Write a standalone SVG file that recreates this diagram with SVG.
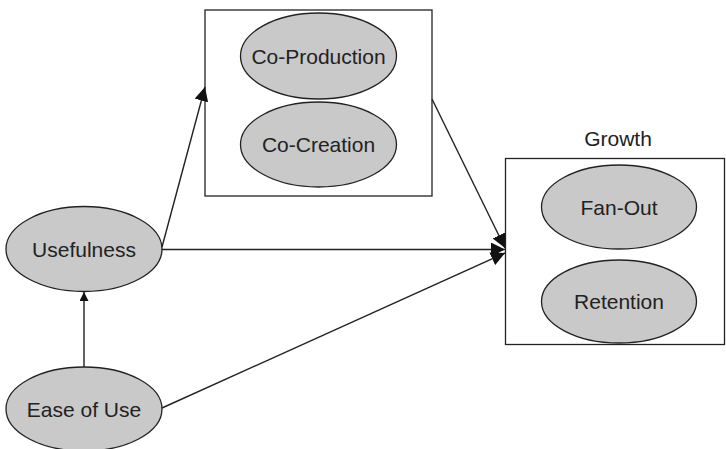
<svg xmlns="http://www.w3.org/2000/svg" width="726" height="449" viewBox="0 0 726 449">
  <defs>
    <marker id="arrow" viewBox="0 0 10 10" refX="10" refY="5" markerWidth="9" markerHeight="9" markerUnits="userSpaceOnUse" orient="auto">
      <path d="M0,0 L10,5 L0,10 z" fill="#111"/>
    </marker>
    <marker id="arrowLg" viewBox="0 0 10 10" refX="10" refY="5" markerWidth="14" markerHeight="14" markerUnits="userSpaceOnUse" orient="auto">
      <path d="M0,0 L10,5 L0,10 z" fill="#111"/>
    </marker>
  </defs>
  <style>
    .box { fill: #fff; stroke: #222; stroke-width: 1.3; }
    .node ellipse { fill: #c8c9c8; stroke: #222; stroke-width: 1.3; }
    text { font-family: "Liberation Sans", Arial, sans-serif; font-size: 21px; fill: #222; text-anchor: middle; }
    .edge { stroke: #222; stroke-width: 1.4; fill: none; }
  </style>
  <rect width="726" height="449" fill="#fff"/>

  <!-- group containers -->
  <g id="engagement">
    <rect class="box" x="205" y="10" width="227" height="186"/>
  </g>
  <g id="growth">
    <rect class="box" x="505.5" y="158.5" width="219" height="186"/>
    <text x="618" y="146">Growth</text>
  </g>

  <!-- nodes -->
  <g id="co-production" class="node">
    <ellipse cx="318.5" cy="56" rx="78" ry="43"/>
    <text x="318.5" y="63.5">Co-Production</text>
  </g>
  <g id="co-creation" class="node">
    <ellipse cx="318.5" cy="144.5" rx="78" ry="42.5"/>
    <text x="318.5" y="152">Co-Creation</text>
  </g>
  <g id="fan-out" class="node">
    <ellipse cx="619" cy="207" rx="77.5" ry="42"/>
    <text x="619" y="214.5">Fan-Out</text>
  </g>
  <g id="retention" class="node">
    <ellipse cx="619" cy="301.5" rx="77.5" ry="41.5"/>
    <text x="619" y="309">Retention</text>
  </g>
  <g id="usefulness" class="node">
    <ellipse cx="84" cy="249" rx="78" ry="42.5"/>
    <text x="84" y="256.5">Usefulness</text>
  </g>
  <g id="ease-of-use" class="node">
    <ellipse cx="84" cy="409" rx="78" ry="42"/>
    <text x="84" y="416.5">Ease of Use</text>
  </g>

  <!-- connectors -->
  <g id="connectors">
    <line class="edge" x1="84" y1="367" x2="84" y2="292" marker-end="url(#arrow)"/>
    <line class="edge" x1="162" y1="247" x2="205" y2="87" marker-end="url(#arrowLg)"/>
    <line class="edge" x1="162" y1="249.5" x2="505" y2="249.5" marker-end="url(#arrowLg)"/>
    <line class="edge" x1="432" y1="99" x2="505" y2="248" marker-end="url(#arrowLg)"/>
    <line class="edge" x1="162" y1="408" x2="505" y2="253" marker-end="url(#arrowLg)"/>
  </g>
</svg>
